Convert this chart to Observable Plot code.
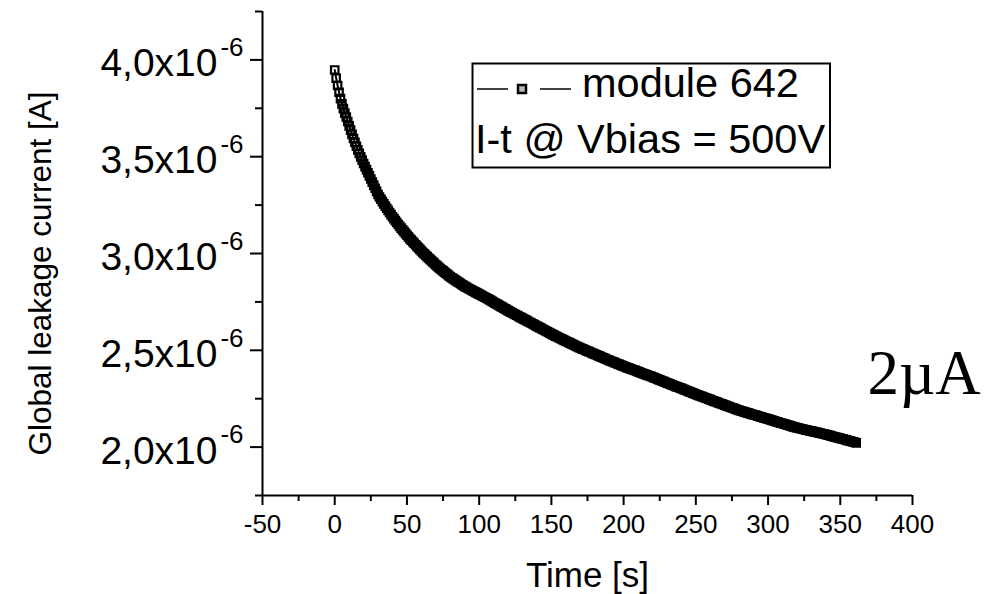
<!DOCTYPE html>
<html>
<head>
<meta charset="utf-8">
<script src="https://cdn.jsdelivr.net/npm/d3@7"></script>
<script src="https://cdn.jsdelivr.net/npm/@observablehq/plot@0.6"></script>
<style>
  body { margin: 0; background: #fff; }
  #wrap { position: relative; width: 1001px; height: 594px; }
  #legend { position: absolute; left: 0; top: 0; pointer-events: none; }
</style>
</head>
<body>
<div id="wrap"></div>
<script>
// Global leakage current, in units of 1e-6 A, one sample per second from t = 0 s
const currents = [
  3.948, 3.906, 3.868, 3.833, 3.800,
  3.773, 3.748, 3.725, 3.705,
  3.682, 3.659, 3.637, 3.615,
  3.594, 3.574, 3.554, 3.535,
  3.517, 3.499, 3.482, 3.465,
  3.449, 3.433, 3.417, 3.401, 3.385,
  3.369, 3.353, 3.337, 3.321, 3.305,
  3.292, 3.280, 3.268, 3.256, 3.245,
  3.234, 3.223, 3.212, 3.201, 3.190,
  3.180, 3.170, 3.160, 3.150, 3.140, 3.131, 3.122, 3.113, 3.104, 3.095,
  3.086, 3.077, 3.069, 3.061, 3.053, 3.045, 3.037, 3.029, 3.021, 3.013,
  3.005, 2.998, 2.991, 2.984, 2.977, 2.970, 2.963, 2.956, 2.949, 2.942,
  2.935, 2.928, 2.922, 2.916, 2.910, 2.904, 2.898, 2.892, 2.886, 2.880,
  2.875, 2.870, 2.865, 2.860, 2.855, 2.850, 2.845, 2.840, 2.835, 2.830,
  2.826, 2.822, 2.818, 2.814, 2.810, 2.806, 2.802, 2.798, 2.794, 2.790,
  2.786, 2.782, 2.778, 2.774, 2.770, 2.766, 2.762, 2.758, 2.753, 2.748,
  2.744, 2.740, 2.736, 2.731, 2.727, 2.723, 2.718, 2.714, 2.710, 2.705,
  2.701, 2.697, 2.693, 2.689, 2.685, 2.681, 2.677, 2.673, 2.669, 2.665,
  2.661, 2.657, 2.653, 2.649, 2.645, 2.641, 2.637, 2.633, 2.629, 2.625,
  2.621, 2.617, 2.613, 2.609, 2.605, 2.601, 2.597, 2.593, 2.589, 2.585,
  2.581, 2.577, 2.573, 2.570, 2.566, 2.562, 2.559, 2.555, 2.551, 2.548,
  2.544, 2.541, 2.537, 2.533, 2.530, 2.526, 2.522, 2.519, 2.515, 2.512,
  2.509, 2.506, 2.503, 2.499, 2.496, 2.493, 2.490, 2.486, 2.483, 2.480,
  2.477, 2.474, 2.471, 2.467, 2.464, 2.461, 2.458, 2.454, 2.451, 2.448,
  2.445, 2.442, 2.439, 2.436, 2.433, 2.430, 2.427, 2.424, 2.421, 2.418,
  2.415, 2.412, 2.409, 2.407, 2.404, 2.401, 2.398, 2.396, 2.393, 2.390,
  2.387, 2.384, 2.381, 2.379, 2.376, 2.373, 2.370, 2.368, 2.365, 2.362,
  2.359, 2.356, 2.353, 2.350, 2.347, 2.344, 2.341, 2.338, 2.335, 2.332,
  2.329, 2.326, 2.323, 2.320, 2.317, 2.314, 2.311, 2.309, 2.306, 2.303,
  2.300, 2.297, 2.294, 2.291, 2.288, 2.285, 2.282, 2.279, 2.276, 2.273,
  2.270, 2.267, 2.264, 2.262, 2.259, 2.256, 2.253, 2.251, 2.248, 2.245,
  2.242, 2.239, 2.236, 2.234, 2.231, 2.228, 2.225, 2.223, 2.220, 2.217,
  2.214, 2.211, 2.209, 2.206, 2.203, 2.201, 2.198, 2.195, 2.193, 2.190,
  2.188, 2.185, 2.183, 2.181, 2.178, 2.176, 2.174, 2.171, 2.169, 2.167,
  2.165, 2.163, 2.160, 2.158, 2.156, 2.154, 2.151, 2.149, 2.147, 2.145,
  2.143, 2.140, 2.138, 2.136, 2.133, 2.131, 2.129, 2.126, 2.124, 2.122,
  2.120, 2.118, 2.115, 2.113, 2.111, 2.109, 2.106, 2.104, 2.102, 2.100,
  2.098, 2.096, 2.095, 2.093, 2.091, 2.089, 2.088, 2.086, 2.084, 2.083,
  2.081, 2.079, 2.077, 2.076, 2.074, 2.072, 2.070, 2.069, 2.067, 2.065,
  2.063, 2.061, 2.059, 2.057, 2.055, 2.053, 2.051, 2.049, 2.047, 2.045,
  2.043, 2.041, 2.039, 2.037, 2.035, 2.033, 2.031, 2.029, 2.027, 2.025, 2.022
];
const sampleInterval = 1; // seconds between samples

const xMajorTicks = [-50, 0, 50, 100, 150, 200, 250, 300, 350, 400];
const xMinorTicks = [-25, 25, 75, 125, 175, 225, 275, 325, 375];
const yMajorTicks = [2.0, 2.5, 3.0, 3.5, 4.0];
const yMinorTicks = [1.75, 2.25, 2.75, 3.25, 3.75, 4.25];
const yExponent = "-6";

const xLabel = "Time [s]";
const yLabel = "Global leakage current [A]";
const seriesName = "module 642";
const conditionText = "I-t @ Vbias = 500V";
const annotation = "2\u00B5A";

const sans = "'Liberation Sans', Arial, Helvetica, sans-serif";
const serif = "'Liberation Serif', 'Times New Roman', serif";

const data = currents.map((c, i) => ({ time: i * sampleInterval, current: c }));

const chart = Plot.plot({
  width: 1001,
  height: 594,
  marginLeft: 262,
  marginRight: 89,
  marginTop: 11,
  marginBottom: 99,
  style: { background: "white", color: "black", fontFamily: sans, overflow: "visible" },
  x: { domain: [-50, 400] },
  y: { domain: [1.75, 4.25] },
  marks: [
    Plot.axisX({ ticks: xMajorTicks, tickSize: 10, tickPadding: 9, fontSize: 26, strokeWidth: 2, label: null, tickFormat: (d) => String(d) }),
    Plot.axisX({ ticks: xMinorTicks, tickSize: 6, strokeWidth: 2, label: null, tickFormat: () => "" }),
    Plot.axisY({ ticks: yMajorTicks, tickSize: 12, strokeWidth: 2, label: null, tickFormat: () => "" }),
    Plot.axisY({ ticks: yMinorTicks, tickSize: 7, strokeWidth: 2, label: null, tickFormat: () => "" }),
    Plot.axisY({ ticks: yMajorTicks, tickSize: 0, tickPadding: 45, dy: 4, fontSize: 39, label: null,
      tickFormat: (d) => d.toFixed(1).replace(".", ",") + "x10" }),
    Plot.text(yMajorTicks, { y: (d) => d, text: () => yExponent, frameAnchor: "left", textAnchor: "end", lineAnchor: "middle", dx: -19, dy: -12, fontSize: 26 }),
    Plot.ruleY([1.75], { strokeWidth: 2 }),
    Plot.ruleX([-50], { strokeWidth: 2 }),
    Plot.line(data, { x: "time", y: "current", stroke: "black", strokeWidth: 2 }),
    Plot.dot(data, { x: "time", y: "current", symbol: "square", r: 4.2, fill: "none", stroke: "black", strokeWidth: 2.2 }),
    Plot.text([xLabel], { text: (d) => d, frameAnchor: "bottom", dy: 91, lineAnchor: "bottom", fontSize: 35 }),
    Plot.text([yLabel], { text: (d) => d, frameAnchor: "left", dx: -212, dy: 20, rotate: -90, textAnchor: "middle", lineAnchor: "bottom", fontSize: 31.5 }),
    Plot.text([annotation], { text: (d) => d, frameAnchor: "right", textAnchor: "start", dx: -45, dy: 140, lineAnchor: "bottom", fontSize: 63, fontFamily: serif })
  ]
});

const wrap = document.getElementById("wrap");
wrap.appendChild(chart);

// legend box
const legend = d3.select(wrap).append("svg")
  .attr("id", "legend").attr("width", 1001).attr("height", 594)
  .attr("font-family", sans);
legend.append("rect").attr("x", 472.5).attr("y", 63.5).attr("width", 357.5).attr("height", 104)
  .attr("fill", "white").attr("stroke", "black").attr("stroke-width", 2);
legend.append("line").attr("x1", 477).attr("x2", 508).attr("y1", 89).attr("y2", 89)
  .attr("stroke", "black").attr("stroke-width", 1.5);
legend.append("line").attr("x1", 540).attr("x2", 571).attr("y1", 89).attr("y2", 89)
  .attr("stroke", "black").attr("stroke-width", 1.5);
legend.append("rect").attr("x", 518).attr("y", 85).attr("width", 8).attr("height", 8)
  .attr("fill", "#bbb").attr("stroke", "black").attr("stroke-width", 2.5);
legend.append("text").attr("x", 582).attr("y", 97).attr("font-size", 41.5).text(seriesName);
legend.append("text").attr("x", 475).attr("y", 153).attr("font-size", 41.5).text(conditionText);
</script>
</body>
</html>
